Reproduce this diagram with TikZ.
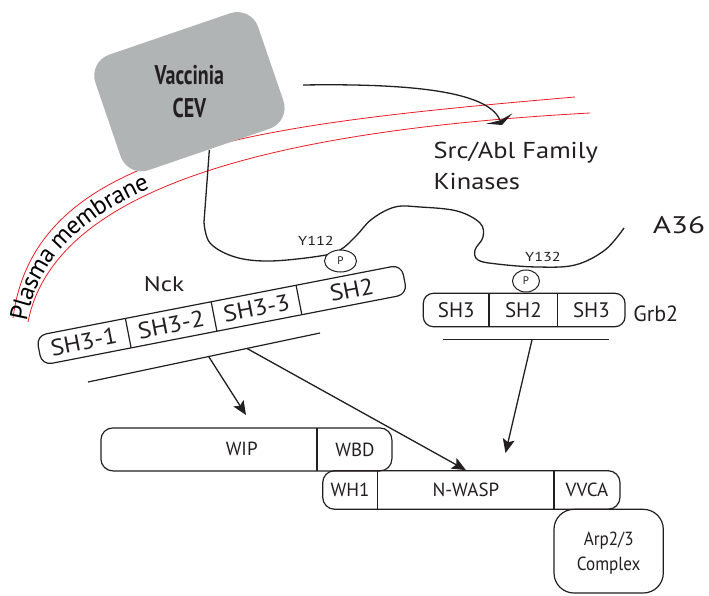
\documentclass[tikz,border=0pt]{standalone}
\usepackage{fontspec}
\setmainfont{PT Sans}
\newfontfamily\cevfont{PT Sans}[FakeStretch=0.74]
\usepackage{tikz}
\usetikzlibrary{shapes.geometric, arrows.meta, decorations.text}
\definecolor{cevgrey}{RGB}{176,180,180}
\definecolor{memred}{RGB}{237,28,36}
\definecolor{ink}{RGB}{35,31,32}

\begin{document}
\begin{tikzpicture}[x=1pt, y=-1pt, line width=1.2pt, color=ink]
% Define styles
\tikzstyle{box} = [draw, rounded corners=11pt, inner sep=0pt]
\tikzstyle{dom} = [inner sep=0pt, font=\fontsize{21}{25}\selectfont]
\tikzstyle{nckdom} = [inner sep=0pt, transform shape, font=\fontsize{23}{27}\selectfont\addfontfeatures{FakeStretch=1.1}]
\tikzstyle{lab} = [inner sep=0pt, font=\fontsize{19}{23}\selectfont]
\tikzstyle{phos} = [ellipse, draw, fill=white, inner sep=0pt, line width=1pt, minimum height=22pt, font=\fontsize{11}{13}\selectfont]
\tikzstyle{ylab} = [inner sep=0pt, font=\fontsize{13}{15}\selectfont\addfontfeatures{FakeStretch=1.25}]
\tikzstyle{membrane} = [draw=memred, line width=0.8pt]
\tikzstyle{hit} = [-{Stealth[length=14pt, width=12pt, inset=3pt]}, line width=1.3pt]
\useasboundingbox (0,0) rectangle (709,596);

% Plasma membrane
\draw[membrane] (13,318) .. controls (35,150) and (250,125) .. (575,97);
\draw[membrane] (28,322) .. controls (55,185) and (280,130) .. (590,113);
\path[decorate, decoration={text along path, text format delimiters={|}{|},
  text={|\fontsize{25}{25}\selectfont|Plasma membrane}, raise=-8pt}]
  (19,320) .. controls (45,168) and (265,128) .. (582,105);

% Virus
\node[fill=cevgrey, rounded corners=22pt, minimum width=172pt, minimum height=122pt, rotate=18.9] (vac) at (189.4,91.7) {};
\node[align=center, font=\cevfont\bfseries\fontsize{27}{33}\selectfont] (vactext) at (vac.center) {Vaccinia\\CEV};

% Kinases
\node[anchor=north west, align=left, inner sep=0pt, font=\fontsize{23}{31}\selectfont\addfontfeatures{FakeStretch=1.15}] (kin) at (433,142) {Src/Abl Family\\Kinases};
\coordinate (srcout) at (303,85);
\coordinate (kinin) at (502,125);
\draw[line width=1.3pt, -{Stealth[length=7pt, width=28pt, inset=2pt]}] (srcout) .. controls (430,83) and (490,95) .. (kinin);

% A36
\draw[line width=1.3pt] (vac.south) -- (204,222) -- plot[smooth, tension=0.6] coordinates {(204,222) (210,243) (235,257) (270,261) (320,256) (340,250) (356,236) (372,219) (395,207) (420,207) (457,211) (480,223) (483,237) (475,250) (478,260) (497,264) (537,267) (575,265) (605,250) (624,228)};
\node[inner sep=0pt, font=\fontsize{24}{28}\selectfont\addfontfeatures{FakeStretch=1.3}] (a36) at (679,225) {A36};
\node[ylab] (y112) at (316,241) {Y112};
\node[ylab] (y132) at (543,257) {Y132};

% Nck
\node[inner sep=0pt, font=\fontsize{21}{25}\selectfont\addfontfeatures{FakeStretch=1.2}] (nck) at (164,284) {Nck};
\begin{scope}[shift={(221.7,315)}, rotate=11]
\draw[rounded corners=10pt] (-186,-15) rectangle (186,15);
\draw (-95.2,-15) -- (-95.2,15);
\draw (-7.8,-15) -- (-7.8,15);
\draw (78.7,-15) -- (78.7,15);
\node[nckdom] (sh31) at (-140.6,0) {SH3-1};
\node[nckdom] (sh32) at (-51.5,0) {SH3-2};
\node[nckdom] (sh33) at (35.5,0) {SH3-3};
\node[nckdom] (nsh2) at (132.4,0) {SH2};
\end{scope}
\node[phos, minimum width=32pt] (p112) at (340.5,261) {P};

% Grb2
\node[box, minimum width=201.7pt, minimum height=33.4pt, rounded corners=10pt] (grb2box) at (524.15,310) {};
\draw (489,293.3) -- (489,326.7);
\draw (557.7,293.3) -- (557.7,326.7);
\node[dom] (gsh3a) at (456.2,310) {SH3};
\node[dom] (gsh2) at (523.4,310) {SH2};
\node[dom] (gsh3b) at (591.4,310) {SH3};
\node[anchor=base west, inner sep=0pt, font=\fontsize{22}{26}\selectfont] (grb2) at (632.7,321.7) {Grb2};
\node[phos, minimum width=27pt] (p132) at (526,281) {P};

% WIP
\node[box, minimum width=291pt, minimum height=43pt, rounded corners=12pt] (wipbox) at (246.4,449.4) {};
\draw (317,428) -- (317,471);
\node[lab] (wip) at (241.7,449) {WIP};
\node[lab] (wbd) at (355,450) {WBD};

% N-WASP
\node[box, minimum width=297.3pt, minimum height=38.6pt, rounded corners=12pt] (nwaspbox) at (471.35,490) {};
\draw (377.7,470.7) -- (377.7,509.3);
\draw (554,470.7) -- (554,509.3);
\node[lab] (wh1) at (350,490) {WH1};
\node[lab] (nwasp) at (465.9,490) {N-WASP};
\node[lab] (vvca) at (587,490) {VVCA};

% Arp2/3
\node[box, minimum width=109.3pt, minimum height=83.7pt, rounded corners=20pt] (arpbox) at (608.65,551.15) {};
\node[align=center, inner sep=0pt, font=\fontsize{19}{25}\selectfont\addfontfeatures{FakeStretch=0.9}] (arp) at (608.7,553) {Arp2/3\\Complex};

% Binding lines and arrows
\coordinate (nckl1) at (88,382);
\coordinate (nckl2) at (320,333);
\draw (nckl1) -- (nckl2) coordinate[pos=0.52] (nckw) coordinate[pos=0.685] (nckn);
\coordinate (grbl1) at (443.3,339.3);
\coordinate (grbl2) at (609,339.3);
\draw (grbl1) -- (grbl2) coordinate[pos=0.536] (grbn);
\coordinate (wipin) at (246,415);
\coordinate (nwaspin) at (505.5,453);
\draw[hit] (nckw) -- (wipin);
\draw[hit] (nckn) -- (nwaspbox.north -| nwasp.north);
\draw[hit] (grbn) -- (nwaspin);

\end{tikzpicture}
\end{document}
